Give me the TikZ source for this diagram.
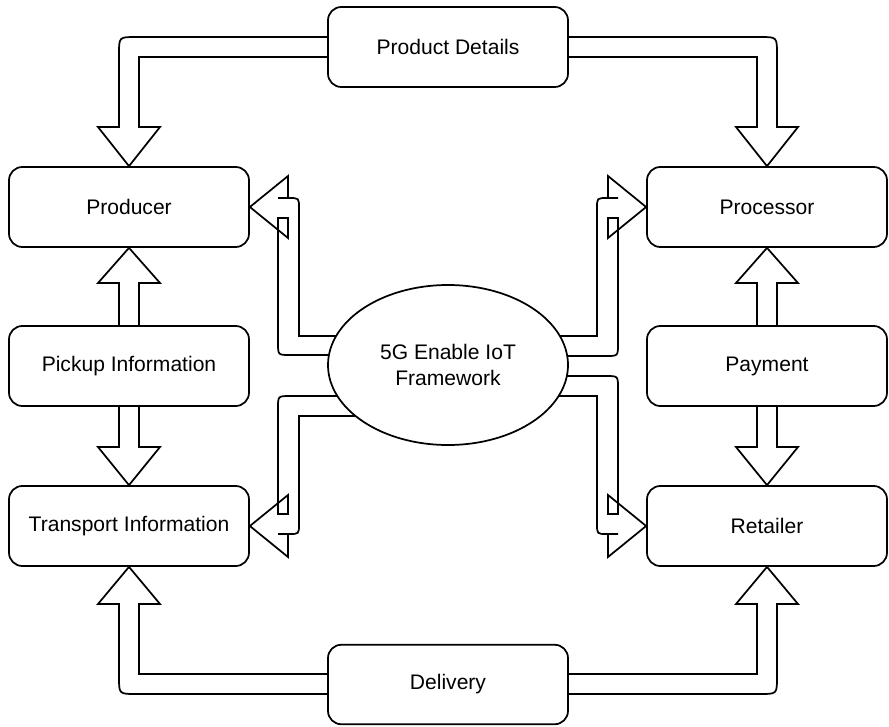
\documentclass[tikz,border=0pt]{standalone}
\usepackage{fontspec}
\setmainfont{Liberation Sans}
\usetikzlibrary{calc,backgrounds,shapes.geometric}
\begin{document}
\begin{tikzpicture}[x=0.75pt,y=-0.75pt,line width=1.3pt,line join=miter,
  box/.style={draw,rounded corners=10pt,minimum width=180pt,minimum height=60pt,fill=white,inner sep=0pt,font=\fontsize{15.8}{19}\selectfont,align=center},
  hub/.style={draw,ellipse,fill=white,minimum width=180pt,minimum height=120pt,inner sep=0pt,font=\fontsize{15.8}{19}\selectfont,align=center},
  blk/.style={draw,line width=1.3pt}]
\useasboundingbox (0,0) rectangle (889,726);

\node[box] (pd) at (448,47) {Product Details};
\node[box] (producer) at (129,207) {Producer};
\node[box] (pickup) at (129,366) {Pickup Information};
\node[box] (transport) at (129,526) {Transport Information};
\node[box] (processor) at (767,207) {Processor};
\node[box] (payment) at (767,366) {Payment};
\node[box] (retailer) at (767,526) {Retailer};
\node[box,minimum height=59.6pt] (delivery) at (448,684.5) {Delivery};
\node[hub] (iot) at (448,365) {5G Enable IoT\\Framework};

\begin{scope}[on background layer]
% Product Details -> Producer / Processor
\draw[blk] (pd.west |- 0,37) -- (136,37) .. controls (119,37) .. (119,54) -- (119,127) -- (98,127) -- (producer.north) -- (160,127) -- (139,127) -- (139,57) -- (pd.west |- 0,57);
\draw[blk] (pd.east |- 0,37) -- (760,37) .. controls (777,37) .. (777,54) -- (777,127) -- (798,127) -- (processor.north) -- (736,127) -- (757,127) -- (757,57) -- (pd.east |- 0,57);
% Delivery -> Transport / Retailer
\draw[blk] (delivery.west |- 0,694) -- (136,694) .. controls (119,694) .. (119,677) -- (119,604) -- (98,604) -- (transport.south) -- (160,604) -- (139,604) -- (139,674) -- (delivery.west |- 0,674);
\draw[blk] (delivery.east |- 0,694) -- (760,694) .. controls (777,694) .. (777,677) -- (777,604) -- (798,604) -- (retailer.south) -- (736,604) -- (757,604) -- (757,674) -- (delivery.east |- 0,674);
% Pickup -> Producer / Transport
\draw[blk] ($(pickup.north)+(-10,0)$) -- (119,283) -- (98,283) -- (producer.south) -- (160,283) -- (139,283) -- ($(pickup.north)+(10,0)$);
\draw[blk] ($(pickup.south)+(-10,0)$) -- (119,447) -- (98,447) -- (transport.north) -- (160,447) -- (139,447) -- ($(pickup.south)+(10,0)$);
% Payment -> Processor / Retailer
\draw[blk] ($(payment.north)+(-10,0)$) -- (757,283) -- (736,283) -- (processor.south) -- (798,283) -- (777,283) -- ($(payment.north)+(10,0)$);
\draw[blk] ($(payment.south)+(-10,0)$) -- (757,447) -- (736,447) -- (retailer.north) -- (798,447) -- (777,447) -- ($(payment.south)+(10,0)$);
% IoT -> Producer
\draw[blk] (iot.center |- 0,336) -- (299,336) -- (299,208) .. controls (299,198) .. (289,198) -- (278,198);
\draw[blk] (288,198) -- (288,176) -- (producer.east) -- (288,238) -- (288,218) -- (278,218) -- (278,343) .. controls (278,355) .. (290,355) -- (iot.center |- 0,355);
% IoT -> Transport
\draw[blk] (iot.center |- 0,416) -- (299,416) -- (299,524) .. controls (299,534) .. (289,534) -- (278,534);
\draw[blk] (288,534) -- (288,557) -- (transport.east) -- (288,495) -- (288,514) -- (278,514) -- (278,408) .. controls (278,396) .. (290,396) -- (iot.center |- 0,396);
% IoT -> Processor
\draw[blk] (iot.center |- 0,336) -- (597,336) -- (597,208) .. controls (597,198) .. (607,198) -- (618,198);
\draw[blk] (608,198) -- (608,176) -- (processor.west) -- (608,238) -- (608,218) -- (618,218) -- (618,344) .. controls (618,356) .. (606,356) -- (iot.center |- 0,356);
% IoT -> Retailer
\draw[blk] (iot.center |- 0,396) -- (597,396) -- (597,524) .. controls (597,534) .. (607,534) -- (618,534);
\draw[blk] (608,534) -- (608,557) -- (retailer.west) -- (608,495) -- (608,514) -- (618,514) -- (618,388) .. controls (618,376) .. (606,376) -- (iot.center |- 0,376);
\end{scope}
\end{tikzpicture}
\end{document}
